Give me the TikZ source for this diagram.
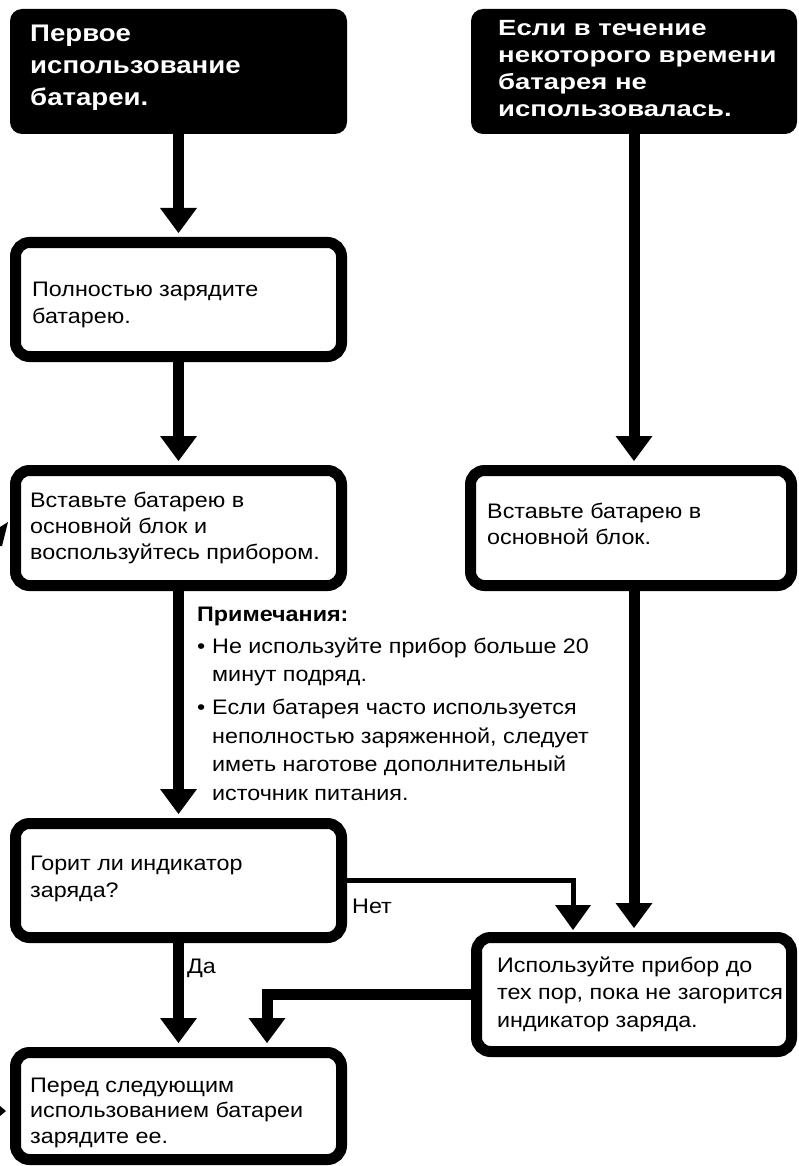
\documentclass[tikz,border=0pt]{standalone}
\usepackage{fontspec}
\setmainfont[FakeStretch=1.11]{Liberation Sans}
\newfontfamily\headfont[FakeStretch=1.15]{Liberation Sans}
\newfontfamily\headfontwide[FakeStretch=1.25]{Liberation Sans}
\usetikzlibrary{arrows.meta}

\begin{document}
\begin{tikzpicture}[x=1pt, y=-1pt,
  headbox/.style={fill=black, rounded corners=12pt, inner sep=0pt, minimum width=#1, minimum height=125pt},
  stepbox/.style={draw=black, line width=11pt, rounded corners=14pt, fill=white, inner sep=0pt, minimum width=#1},
  txt/.style={anchor=base west, align=left, inner sep=0pt, font=\fontsize{21}{26.5}\selectfont},
  headtxt/.style={txt, text=white},
  flow/.style={line width=11pt, shorten >=4pt, -{Triangle[width=37pt, length=25pt, line width=0pt]}},
  thinflow/.style={line width=5pt, shorten >=2pt, -{Triangle[width=36pt, length=25pt, line width=0pt]}},
]
  \useasboundingbox (0,0) rectangle (798,1166);

  % Start boxes (text nodes sit on the baseline of their last line)
  \node[headbox=337pt] (b1) at (178.5,71.5) {};
  \node[headbox=326pt] (b2) at (634,71.5) {};
  \node[headtxt, font=\headfont\bfseries\fontsize{24}{32}\selectfont] (t1) at (30,106)
    {Первое\\использование\\батареи.};
  \node[headtxt, font=\headfontwide\bfseries\fontsize{22}{27}\selectfont] (t2) at (498,117)
    {Если в течение\\некоторого времени\\батарея не\\использовалась.};

  % Left column
  \node[stepbox=326pt, minimum height=114pt] (b3) at (178.5,299.5) {};
  \node[txt] (t3) at (32,323) {Полностью зарядите\\батарею.};
  \node[stepbox=326pt, minimum height=115pt] (b4) at (178.5,528) {};
  \node[txt, font=\fontsize{21}{26}\selectfont] (t4) at (30,559)
    {Вставьте батарею в\\основной блок и\\воспользуйтесь прибором.};
  \node[stepbox=326pt, minimum height=114pt] (b5) at (178.5,880.5) {};
  \node[txt, font=\fontsize{21}{27}\selectfont] (t5) at (30,897) {Горит ли индикатор\\заряда?};
  \node[stepbox=326pt, minimum height=107pt] (b8) at (178.5,1106) {};
  \node[txt, font=\fontsize{21}{25.5}\selectfont] (t8) at (30,1143)
    {Перед следующим\\использованием батареи\\зарядите ее.};

  % Right column
  \node[stepbox=321pt, minimum height=115pt] (b6) at (631,528) {};
  \node[txt, font=\fontsize{21}{26}\selectfont] (t6) at (487,544) {Вставьте батарею в\\основной блок.};
  \node[stepbox=315pt, minimum height=114pt] (b7) at (634,994.5) {};
  \node[txt, font=\fontsize{21}{27.5}\selectfont] (t7) at (497,1027)
    {Используйте прибор до\\тех пор, пока не загорится\\индикатор заряда.};

  % Notes
  \node[txt, font=\fontsize{21}{28.5}\selectfont] (notes) at (197,800)
    {\textbf{Примечания:}\\[3.5pt]
     \makebox[15pt][l]{•}Не используйте прибор больше 20\\
     \hspace*{15pt}минут подряд.\\[4.5pt]
     \makebox[15pt][l]{•}Если батарея часто используется\\
     \hspace*{15pt}неполностью заряженной, следует\\
     \hspace*{15pt}иметь наготове дополнительный\\
     \hspace*{15pt}источник питания.};

  % Connectors
  \coordinate (cno) at (573,0);
  \coordinate (cback) at (267,0);
  \draw[flow] (b1.south) -- (b3.north);
  \draw[flow] (b3.south) -- (b4.north);
  \draw[flow] (b4.south) -- (b5.north);
  \draw[flow] (b5.south) -- (b8.north);
  \draw[flow] (b2.south) -- (b2.south |- b6.north);
  \draw[flow] (b7.north |- b6.south) -- (b7.north);
  \draw[thinflow] (b5.east) -| (cno |- b7.north);
  \draw[flow] (b7.west) -| (cback |- b8.north);
  \node[txt] (no) at (352,913) {Нет};
  \node[txt] (yes) at (187,973) {Да};

  % Arrow tips coming in from the left edge
  \fill (0,527) -- (8,522) -- (2,546) -- (0,546) -- cycle;
  \fill (0,1106) -- (6,1111) -- (0,1116) -- cycle;
\end{tikzpicture}
\end{document}
